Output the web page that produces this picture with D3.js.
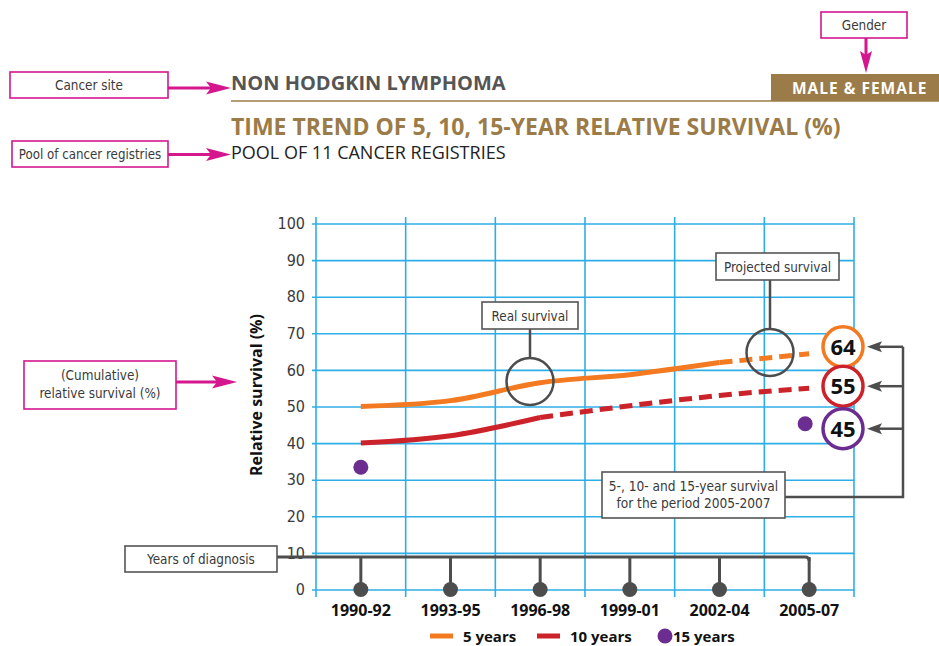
<!DOCTYPE html>
<html>
<head>
<meta charset="utf-8">
<script src="https://cdn.jsdelivr.net/npm/d3@7"></script>
<style>
  body { margin: 0; background: #fff; }
  svg text { font-family: "Open Sans", "Noto Sans", sans-serif; }
  .note { font-family: "Liberation Sans Narrow", "Arial Narrow", "DejaVu Sans Condensed", sans-serif !important; fill: #3a3a3a; }
</style>
</head>
<body>
<div id="chart"></div>
<script>
// survival data
const periods = ["1990-92", "1993-95", "1996-98", "1999-01", "2002-04", "2005-07"];
const surv5 = [50, 51.6, 56.5, 58.7, 62, 64.4];
const surv10 = [40, 42, 47, 50.2, 53, 55];
const surv15 = [33.4, null, null, null, null, 45.3];
const lastSolid5 = 4;   // index where the 5-year line turns dashed
const lastSolid10 = 2;  // same for 10-year
const finalLabels = [64, 55, 45];
const yTicks = [0, 10, 20, 30, 40, 50, 60, 70, 80, 90, 100];

const colors = { s5: "#f37a21", s10: "#cc2229", s15: "#6b2d90", gray: "#4d4d4d", grid: "#2eaee6", pink: "#d4178d", gold: "#9b7b47" };

const W = 939, H = 646;
const svg = d3.select("#chart").append("svg")
    .attr("width", W)
    .attr("height", H);

// ---- header ----
svg.append("text")
    .attr("x", 231).attr("y", 90)
    .attr("font-size", 20).attr("font-weight", 700)
    .attr("fill", "#555")
    .text("NON HODGKIN LYMPHOMA");

svg.append("line")
    .attr("x1", 231).attr("x2", W)
    .attr("y1", 101).attr("y2", 101)
    .attr("stroke", colors.gold).attr("stroke-width", 1.5);

svg.append("rect")
    .attr("x", 771).attr("y", 74)
    .attr("width", W - 771).attr("height", 27)
    .attr("fill", colors.gold);

svg.append("text")
    .attr("x", 792).attr("y", 94)
    .attr("font-size", 15.5).attr("font-weight", 700)
    .attr("letter-spacing", 1)
    .attr("fill", "#fff")
    .text("MALE & FEMALE");

svg.append("text")
    .attr("x", 231).attr("y", 135)
    .attr("font-size", 23).attr("font-weight", 700)
    .attr("fill", colors.gold)
    .text("TIME TREND OF 5, 10, 15-YEAR RELATIVE SURVIVAL (%)");

svg.append("text")
    .attr("x", 231).attr("y", 159)
    .attr("font-size", 18)
    .attr("fill", "#222")
    .text("POOL OF 11 CANCER REGISTRIES");

// ---- scales ----
const plot = { left: 316, right: 854, top: 217, bottom: 597 };

const x = d3.scaleBand()
    .domain(periods)
    .range([plot.left, plot.right]);

const cx = d => x(d) + x.bandwidth() / 2;

const y = d3.scaleLinear()
    .domain([0, 100])
    .range([589.5, 223.5]);

// ---- grid ----
const yAxis = d3.axisLeft(y)
    .tickValues(yTicks)
    .tickSize(-(plot.right - 312))
    .tickPadding(7);

const gy = svg.append("g")
    .attr("transform", "translate(312,0)")
    .call(yAxis);
gy.select(".domain").remove();
gy.selectAll(".tick line")
    .attr("stroke", colors.grid)
    .attr("stroke-width", 1.6);
gy.selectAll(".tick text")
    .attr("class", "note")
    .attr("font-size", 16)
    .attr("fill", "#333");

const edges = periods.map(p => x(p)).concat([plot.right]);
svg.append("g")
    .selectAll("line")
    .data(edges)
    .join("line")
    .attr("x1", d => d).attr("x2", d => d)
    .attr("y1", plot.top).attr("y2", plot.bottom)
    .attr("stroke", colors.grid)
    .attr("stroke-width", 1.6);

// x labels
const xAxis = d3.axisBottom(x).tickSize(0).tickPadding(8);
const gx = svg.append("g")
    .attr("transform", `translate(0,${plot.bottom})`)
    .call(xAxis);
gx.select(".domain").remove();
gx.selectAll(".tick text")
    .attr("font-size", 16)
    .attr("font-weight", 700)
    .attr("fill", "#111");

// y title
svg.append("text")
    .attr("transform", "translate(262,395) rotate(-90)")
    .attr("text-anchor", "middle")
    .attr("font-size", 16)
    .attr("font-weight", 700)
    .attr("fill", "#111")
    .text("Relative survival (%)");

// ---- "years of diagnosis" connector ----
const connY = 557;
const conn = svg.append("g");
conn.append("path")
    .attr("d", `M277,${connY} H${cx(periods[5]) - 4} Q${cx(periods[5])},${connY} ${cx(periods[5])},${connY + 4}`)
    .attr("fill", "none")
    .attr("stroke", colors.gray)
    .attr("stroke-width", 3);
conn.selectAll("line")
    .data(periods)
    .join("line")
    .attr("x1", d => cx(d)).attr("x2", d => cx(d))
    .attr("y1", connY).attr("y2", y(0))
    .attr("stroke", colors.gray)
    .attr("stroke-width", 3);
conn.selectAll("circle")
    .data(periods)
    .join("circle")
    .attr("cx", d => cx(d))
    .attr("cy", y(0))
    .attr("r", 7.5)
    .attr("fill", colors.gray);

function noteBox(x0, y0, w, h, lines, stroke, baseY, fontSize, lineGap) {
    const g = svg.append("g");
    g.append("rect")
        .attr("x", x0).attr("y", y0)
        .attr("width", w).attr("height", h)
        .attr("fill", "#fff")
        .attr("stroke", stroke)
        .attr("stroke-width", 1.6);
    g.selectAll("text")
        .data(lines)
        .join("text")
        .attr("class", "note")
        .attr("x", x0 + w / 2)
        .attr("y", (d, i) => baseY + i * (lineGap || 19))
        .attr("text-anchor", "middle")
        .attr("font-size", fontSize || 13.4)
        .text(d => d);
    return g;
}

noteBox(125, 546, 152, 26, ["Years of diagnosis"], "#555", 564);

// ---- survival lines ----
const line = d3.line()
    .x(d => cx(d.p))
    .y(d => y(d.v))
    .curve(d3.curveMonotoneX);

function drawSeries(vals, cut, color) {
    const pts = vals.map((v, i) => ({ p: periods[i], v: v }));
    svg.append("path")
        .datum(pts.slice(0, cut + 1))
        .attr("d", line)
        .attr("fill", "none")
        .attr("stroke", color)
        .attr("stroke-width", 5);
    svg.append("path")
        .datum(pts.slice(cut))
        .attr("d", line)
        .attr("fill", "none")
        .attr("stroke", color)
        .attr("stroke-width", 5)
        .attr("stroke-dasharray", "13,7");
}

drawSeries(surv10, lastSolid10, colors.s10);
drawSeries(surv5, lastSolid5, colors.s5);

svg.append("g")
    .selectAll("circle")
    .data(surv15.map((v, i) => ({ p: periods[i], v: v })).filter(d => d.v != null))
    .join("circle")
    .attr("cx", (d, i) => cx(d.p) - (i ? 4 : 0))
    .attr("cy", d => y(d.v))
    .attr("r", 7.5)
    .attr("fill", colors.s15);

// ---- real / projected callouts ----
function callout(bx, by, bw, label, ccx, ccy) {
    svg.append("line")
        .attr("x1", ccx).attr("x2", ccx)
        .attr("y1", by + 27).attr("y2", ccy - 23.5)
        .attr("stroke", colors.gray).attr("stroke-width", 2.5);
    svg.append("circle")
        .attr("cx", ccx).attr("cy", ccy).attr("r", 23.5)
        .attr("fill", "none")
        .attr("stroke", colors.gray).attr("stroke-width", 2.5);
    noteBox(bx, by, bw, 27, [label], "#555", by + 18.5);
}

callout(482, 302, 96, "Real survival", 530, 381.5);
callout(716, 253, 123, "Projected survival", 770, 352.5);

// ---- final values ----
const labelX = 843;
const nudge = [-7, -2, 5];
const labelColors = [colors.s5, colors.s10, colors.s15];
const labelYs = [surv5[5], surv10[5], surv15[5]].map((v, i) => y(v) + nudge[i]);

// arrows from the note box
const arrowX = 903;
svg.append("path")
    .attr("d", `M785,497 H${arrowX} V${labelYs[0]}`)
    .attr("fill", "none")
    .attr("stroke", colors.gray).attr("stroke-width", 2.5);
labelYs.forEach(ly => {
    svg.append("line")
        .attr("x1", arrowX).attr("x2", 876)
        .attr("y1", ly).attr("y2", ly)
        .attr("stroke", colors.gray).attr("stroke-width", 2.5);
    svg.append("path")
        .attr("d", `M867,${ly} L882,${ly - 5.5} L879,${ly} L882,${ly + 5.5} Z`)
        .attr("fill", colors.gray);
});

const lab = svg.append("g")
    .selectAll("g")
    .data(finalLabels)
    .join("g")
    .attr("transform", (d, i) => `translate(${labelX},${labelYs[i]})`);
lab.append("circle")
    .attr("r", 20)
    .attr("fill", "#fff")
    .attr("stroke", (d, i) => labelColors[i])
    .attr("stroke-width", 3.5);
lab.append("text")
    .attr("text-anchor", "middle")
    .attr("dy", "0.36em")
    .attr("font-size", 22)
    .attr("font-weight", 700)
    .attr("fill", "#111")
    .text(d => d);

noteBox(602, 472, 183, 46, ["5-, 10- and 15-year survival", "for the period 2005-2007"], "#555", 491, 13.6, 16.5);

// ---- pink annotations ----
function pinkArrow(x1, y1, x2, y2) {
    const horiz = y1 === y2;
    if (horiz) {
        svg.append("line")
            .attr("x1", x1).attr("x2", x2 - 18)
            .attr("y1", y1).attr("y2", y2)
            .attr("stroke", colors.pink).attr("stroke-width", 3);
        svg.append("path")
            .attr("d", `M${x2},${y2} L${x2 - 25},${y2 - 6.5} L${x2 - 20},${y2} L${x2 - 25},${y2 + 6.5} Z`)
            .attr("fill", colors.pink);
    } else {
        svg.append("line")
            .attr("x1", x1).attr("x2", x2)
            .attr("y1", y1).attr("y2", y2 - 16)
            .attr("stroke", colors.pink).attr("stroke-width", 3);
        svg.append("path")
            .attr("d", `M${x2},${y2} L${x2 - 6},${y2 - 22} L${x2},${y2 - 18} L${x2 + 6},${y2 - 22} Z`)
            .attr("fill", colors.pink);
    }
}

noteBox(10, 72, 158, 26, ["Cancer site"], colors.pink, 90);
pinkArrow(168, 88, 231, 88);

noteBox(12, 141, 156, 26, ["Pool of cancer registries"], colors.pink, 159, 13.2);
pinkArrow(168, 154.5, 231, 154.5);

noteBox(821, 12, 86, 26, ["Gender"], colors.pink, 30);
pinkArrow(866, 38, 866, 73);

noteBox(24, 361, 152, 48, ["(Cumulative)", "relative survival (%)"], colors.pink, 380, 13.4, 18);
pinkArrow(176, 382, 237, 382);

// ---- legend ----
const legend = svg.append("g").attr("transform", "translate(0,636)");
const legItems = [
    { label: "5 years", color: colors.s5, x: 430, kind: "line" },
    { label: "10 years", color: colors.s10, x: 537, kind: "line" },
    { label: "15 years", color: colors.s15, x: 658, kind: "dot" }
];
legItems.forEach(it => {
    if (it.kind === "line") {
        legend.append("line")
            .attr("x1", it.x).attr("x2", it.x + 23)
            .attr("stroke", it.color).attr("stroke-width", 5);
    } else {
        legend.append("circle")
            .attr("cx", it.x + 7).attr("r", 7.5)
            .attr("fill", it.color);
    }
    legend.append("text")
        .attr("x", it.kind === "line" ? it.x + 33 : it.x + 15)
        .attr("y", 5.5)
        .attr("font-size", 15)
        .attr("font-weight", 700)
        .attr("fill", "#111")
        .text(it.label);
});
</script>
</body>
</html>
